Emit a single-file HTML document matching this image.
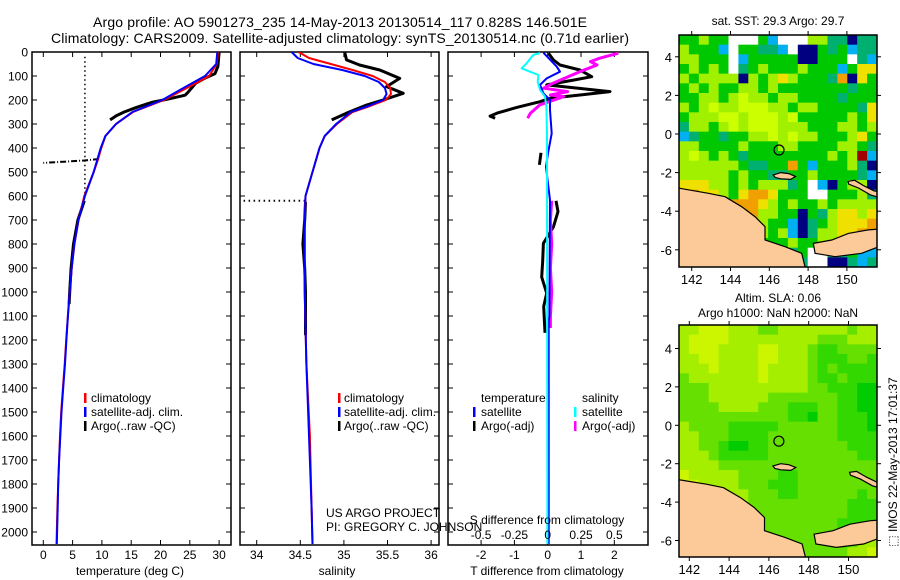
<!DOCTYPE html>
<html><head><meta charset="utf-8"><style>
html,body{margin:0;padding:0;background:#fff;}
svg{display:block;font-family:"Liberation Sans",sans-serif;}
</style></head><body>
<svg id="fig" width="900" height="580" viewBox="0 0 900 580" xmlns="http://www.w3.org/2000/svg">
<text x="340" y="27" font-size="14" text-anchor="middle" textLength="494">Argo profile: AO 5901273_235 14-May-2013 20130514_117 0.828S 146.501E</text>
<text x="340" y="43" font-size="14" text-anchor="middle" textLength="578">Climatology: CARS2009. Satellite-adjusted climatology: synTS_20130514.nc (0.71d earlier)</text>
<defs>
<clipPath id="c1"><rect x="32" y="52" width="199" height="493"/></clipPath>
<clipPath id="c2"><rect x="240" y="52" width="199" height="493"/></clipPath>
<clipPath id="c3"><rect x="448" y="52" width="200" height="493"/></clipPath>
<clipPath id="m1"><rect x="679" y="35" width="198" height="232"/></clipPath>
<clipPath id="m2"><rect x="679" y="325" width="198" height="232"/></clipPath>
</defs>
<g id="layer"></g>
</svg>
<script>
// ---------- data ----------
const depthTicks=[0,100,200,300,400,500,600,700,800,900,1000,1100,1200,1300,1400,1500,1600,1700,1800,1900,2000];
const tempTicks=[0,5,10,15,20,25,30];
const salTicks=[34,34.5,35,35.5,36];
const salTickLabels=["34","34.5","35","35.5","36"];
const dTTicks=[-2,-1,0,1,2];
const dSTicks=[-0.5,-0.25,0,0.25,0.5];
const dSTickLabels=["-0.5","-0.25","0","0.25","0.5"];

const tDepth=[0,50,100,150,200,250,300,350,400,450,500,600,700,800,900,1000,1100,1200,1300,1400,1500,1600,1700,1800,1900,2000,2050];
const tClim=[29.8,29.6,28.3,24.5,20.6,15.3,12.4,10.6,9.9,9.3,8.6,7.0,6.0,5.3,4.85,4.5,4.2,3.9,3.65,3.35,3.05,2.85,2.7,2.55,2.4,2.3,2.25];
const tSat=[29.7,29.5,27.6,23.9,20.3,15.2,12.4,10.6,9.8,9.2,8.6,7.1,6.0,5.3,4.85,4.5,4.2,3.95,3.7,3.4,3.1,2.9,2.7,2.55,2.45,2.35,2.3];
const argoTDepth=[3,30,60,90,110,130,150,170,180,195,210,230,250,265,283,NaN,620,700,800,900,1000,1050];
const argoT=[30.0,29.9,29.8,29.3,27.5,26.0,25.3,24.6,24.2,21.5,18.5,16.0,13.8,12.5,11.4,NaN,7.0,5.9,5.15,4.75,4.5,4.4];
const spikeDepth=[446,452,457,462];
const spikeT=[9.5,7.0,3.5,0.0];

const sDepth=[0,25,50,75,100,125,150,175,200,225,250,300,350,400,500,600,700,1000,1300,1600,1900,2050];
const sClim=[34.48,34.60,34.85,35.10,35.33,35.47,35.53,35.54,35.48,35.30,35.10,34.92,34.78,34.72,34.64,34.56,34.55,34.55,34.57,34.61,34.63,34.64];
const sSat=[34.40,34.47,34.65,34.98,35.24,35.40,35.47,35.49,35.45,35.28,35.08,34.91,34.78,34.72,34.64,34.56,34.55,34.55,34.57,34.60,34.63,34.64];
const argoSDepth=[3,33,54,75,110,144,172,200,221,255,283,NaN,625,700,800,900,1000,1100,1180];
const argoS=[35.01,35.03,35.18,35.41,35.64,35.49,35.68,35.45,35.26,35.03,34.86,NaN,34.56,34.55,34.53,34.55,34.56,34.56,34.56];

const satDTDepth=[3,61,82,110,137,172,200,242,339,422,478,617,1100,1120,2050];
const satDT=[-0.13,0.27,0.37,-0.03,-0.23,-0.13,0.07,0.07,0.12,0.01,-0.05,0.07,0.05,0.03,0.03];
const satDSDepth=[4,12,47,68,82,96,124,158,186,228,339,2050];
const satDS=[-0.058,-0.108,-0.158,-0.196,-0.133,-0.07,-0.075,-0.058,-0.02,-0.01,-0.005,-0.002];
const argoDSDepth=[5,26,40,54,82,130,151,165,179,186,221,255,276,NaN,620,700,800,900,1000,1100,1150];
const argoDS=[0.53,0.39,0.32,0.37,0.24,0.04,-0.03,0.15,0.02,0.12,-0.06,-0.13,-0.15,NaN,0.03,0.02,0.03,0.02,0.03,0.02,0.02];
const argoDTDepth=[5,33,54,75,103,117,137,165,179,193,207,231,255,267,276,NaN,420,470,NaN,620,665,729,797,870,938,1005,1060,1120,1170];
const argoDT=[0.02,0.17,0.37,0.97,1.32,0.77,-0.03,1.87,0.97,0.07,-0.23,-0.93,-1.53,-1.73,-1.58,NaN,-0.2,-0.25,NaN,0.25,0.31,0.17,-0.13,-0.15,-0.18,-0.03,-0.12,-0.1,-0.08];

const lonTicks=[142,144,146,148,150];
const latTicks=[4,2,0,-2,-4,-6];
const stationLon=146.501, stationLat=-0.828;
const sstGrid=[
"GGLGGWWWGBWWWLLTTNTT","LGGGBWGGTTBWNNGTGBTT","LLGGGWBGGGGGNNGGGWTB","GLGLGWTGLGGGLGGGBGyy",
"LGLLLLNLGLyLGGGTONyG","GLGLGGLLGLGGGGGGGTGG","GGLLGLYLLGLLGGGGTGGG","LGLYLLYYYLLGLLGGGGTy",
"GLLLYYLYYYLYGGGGGLGy","TLLGLYLYYYLLLGGGLLGL","BTGGTGGLLYLYLLGGGLyG","LLGGGGLGGGLLGGGGLLGT",
"LYLGLGTGGGGGGGGLGLRB","LLLLLLGTTGGOGBGGGLTN","LLLLLGLGGTTGGLGGGGTB","yyyLLGLGLLLTGWBNGLLN",
"OOyyLGyOOyGGGWWGGGLT","LLyOOOOOyLGLGGLGLLLL","LLLLOOOOLLGGNGTLyyLy","LLLLLLyLLGGBNTGLyyyO",
"LLLLLLLLLGLBNTLLyyOO","LLLLLLLLGGGLGGLLyGGN","GGGGGGGGGGTTGWWTTGBB","GGGGGGGGGNTTTWWNNTBT"];
const slaGrid=[
"bbaaabbbccbbbbbbbcbb","baaaabbbbbbbbbcccbbb","baaabbbbaabbbcddcccc","bbaabbbbaabbbcdddccd",
"bbbabbbbabbbbcdcdddd","cbbbbbbbabbbbcddcddd","cccbbbbbbbbbbccdddee","cccbbbbbbcccccccddee",
"ccccbbbbcccdddccddee","cccccccccccddeccddde","bccccdddddccccccddde","bbcccddddcccccccdddd",
"bbccdeeddccccccccddd","bbbcdddddcccccccccdd","bbbbcccccccccccccccc","abbbbbccccddcccccccc",
"aabbbbcccdddcccccccc","aaabbbbcccddccccccdc","aaaabbbccccccccccddd","aabbbbcccccccccccddd",
"bbbbbbbcccccccccdddd","bbbbbbbcccccccccddcc","bbbbbbccccccccccdcbb","cccccccccccccccccbba"];
const coastLon=[141.0,141.35,142.86,143.72,144.58,145.26,145.78,145.78,146.81,147.67,147.84,147.9,141.0];
const coastLat=[-2.8,-2.81,-3.07,-3.25,-3.77,-4.28,-4.80,-5.49,-5.84,-6.18,-6.88,-7.5,-7.5];
const nbLon=[148.27,149.22,150.07,151.1,152,152,150.76,149.39,148.36];
const nbLat=[-5.67,-5.49,-5.15,-4.97,-4.9,-5.7,-6.18,-6.36,-6.18];
const manusLon=[146.2,146.6,147.0,147.35,147.1,146.6,146.3];
const manusLat=[-2.12,-2.0,-2.05,-2.2,-2.35,-2.32,-2.25];
const niLon=[150.05,150.4,150.9,151.4,151.7,151.7,151.2,150.6,150.1];
const niLat=[-2.45,-2.4,-2.7,-2.95,-3.0,-3.3,-3.15,-2.8,-2.6];

// ---------- helpers ----------
const NS="http://www.w3.org/2000/svg";
const layer=document.getElementById('layer');
function mk(tag,attrs,parent){const e=document.createElementNS(NS,tag);for(const k in attrs)e.setAttribute(k,attrs[k]);(parent||layer).appendChild(e);return e;}
const yD=d=>52+d*0.24;
const xT=t=>43.3+t*5.86;
const xS=s=>256.7+(s-34)*87.2;
const xDT=v=>547.7+v*33.3;
const xDS=v=>547.7+v*133.3;
function pathD(xs,ys,fx,fy){let d="",pen=false;for(let i=0;i<xs.length;i++){if(isNaN(xs[i])||isNaN(ys[i])){pen=false;continue;}d+=(pen?"L":"M")+fx(xs[i]).toFixed(1)+","+fy(ys[i]).toFixed(1);pen=true;}return d;}
function line(g,vals,deps,fx,color,w,name,dash){const p=mk('path',{d:pathD(vals,deps,fx,yD),fill:'none',stroke:color,'stroke-width':w,'stroke-linejoin':'round'},g);if(dash)p.setAttribute('stroke-dasharray',dash);

return p;}
function txt(x,y,s,size,anchor,name,parent){const t=mk('text',{x:x,y:y,'font-size':size,'text-anchor':anchor||'start'},parent);t.textContent=s;

return t;}

// ---------- profile panels ----------
const panels=[{x:32,clip:'c1'},{x:240,clip:'c2'},{x:448,clip:'c3',w:200}];
panels.forEach((p,i)=>{
  const w=p.w||199;
  const r=mk('rect',{x:p.x,y:52,width:w,height:493,fill:'#fff',stroke:'#000','stroke-width':1.5});
  
  
  depthTicks.forEach(d=>{
    mk('line',{x1:p.x,x2:p.x+5,y1:yD(d),y2:yD(d),stroke:'#000'});
    mk('line',{x1:p.x+w-5,x2:p.x+w,y1:yD(d),y2:yD(d),stroke:'#000'});
  });
});
depthTicks.forEach(d=>txt(28,yD(d)+4.5,String(d),12,'end','depth-tick-label'));
tempTicks.forEach(t=>{mk('line',{x1:xT(t),x2:xT(t),y1:52,y2:57,stroke:'#000'});mk('line',{x1:xT(t),x2:xT(t),y1:540,y2:545,stroke:'#000'});txt(xT(t),559,String(t),12,'middle','temp-tick-label');});
salTicks.forEach((s,i)=>{mk('line',{x1:xS(s),x2:xS(s),y1:52,y2:57,stroke:'#000'});mk('line',{x1:xS(s),x2:xS(s),y1:540,y2:545,stroke:'#000'});txt(xS(s),559,salTickLabels[i],12,'middle','salinity-tick-label');});
dTTicks.forEach(t=>{mk('line',{x1:xDT(t),x2:xDT(t),y1:52,y2:57,stroke:'#000'});mk('line',{x1:xDT(t),x2:xDT(t),y1:540,y2:545,stroke:'#000'});txt(xDT(t),559,String(t),12,'middle','tdiff-tick-label');});
txt(130,575,'temperature (deg C)',12,'middle','x-axis-title-temperature');
txt(337,575,'salinity',12,'middle','x-axis-title-salinity');
txt(547,575,'T difference from climatology',12,'middle','x-axis-title-tdiff');

const g1=mk('g',{'clip-path':'url(#c1)'});
line(g1,[7.1,7.1],[20,600],xT,'#000',1.5,'argo-qc-dotted-line','1.5,3');
line(g1,spikeT,spikeDepth,xT,'#000',2,'argo-temp-spike','6,2,1,2');
line(g1,argoT,argoTDepth,xT,'#000',3,'argo-temp-line');
line(g1,tClim,tDepth,xT,'#f00',2,'clim-temp-line');
line(g1,tSat,tDepth,xT,'#00f',2,'sat-temp-line');

const g2=mk('g',{'clip-path':'url(#c2)'});
line(g2,[33.85,34.56],[620,620],xS,'#000',2,'argo-sal-dotted-line','1.5,3.5');
line(g2,argoS,argoSDepth,xS,'#000',3,'argo-sal-line');
line(g2,sClim,sDepth,xS,'#f00',2,'clim-sal-line');
line(g2,sSat,sDepth,xS,'#00f',2,'sat-sal-line');

const g3=mk('g',{'clip-path':'url(#c3)'});
line(g3,argoDT,argoDTDepth,xDT,'#000',3,'argo-tdiff-line');
line(g3,argoDS,argoDSDepth,xDS,'#f0f',3,'argo-sdiff-line');
line(g3,satDT,satDTDepth,xDT,'#00f',2,'sat-tdiff-line');
line(g3,satDS,satDSDepth,xDS,'#0ff',2,'sat-sdiff-line');

// legends
function leg(bx,tx,y,color,label,name){const b=mk('rect',{x:bx,y:y-5,width:2.5,height:10,fill:color});txt(tx,y+4,label,12,'start',name);}
[[84,91],[338,344]].forEach((p,i)=>{
  leg(p[0],p[1],398,'#f00','climatology','legend-climatology');
  leg(p[0],p[1],412,'#00f','satellite-adj. clim.','legend-satellite-adj');
  leg(p[0],p[1],426,'#000','Argo(..raw -QC)','legend-argo');
});
txt(481,402,'temperature',12,'start','legend-temperature-header');
leg(473,481,412,'#00f','satellite','legend-temp-satellite');
leg(473,481,426,'#000','Argo(-adj)','legend-temp-argo');
txt(582,402,'salinity',12,'start','legend-salinity-header');
leg(574,582,412,'#0ff','satellite','legend-sal-satellite');
leg(574,582,426,'#f0f','Argo(-adj)','legend-sal-argo');
txt(326,517,'US ARGO PROJECT',12,'start','credit-project');
txt(326,531,'PI: GREGORY C. JOHNSON',12,'start','credit-pi');
txt(547,524,'S difference from climatology',12,'middle','sdiff-axis-title');
dSTicks.forEach((s,i)=>txt(xDS(s),539,dSTickLabels[i],12,'middle','sdiff-tick-label'));

// ---------- maps ----------
const sstCol={G:'#00c800',L:'#a0f000',Y:'#ccff00',T:'#00b070',B:'#00b0f0',N:'#000080',W:'#ffffff',O:'#f0a000',y:'#f0e000',R:'#a00000'};
const slaCol={a:'#ccf500',b:'#a6ee00',c:'#66e000',d:'#33d800',e:'#00cc00'};
const maps=[
 {left:679,top:35,w:198,h:232,lon0:142,kx:19.4,off:12.7,lat0y:134,ky:19.3,clip:'m1',grid:sstGrid,cols:sstCol,name:'sst-map'},
 {left:679,top:325,w:198,h:232,lon0:142,kx:19.9,off:10.3,lat0y:425.3,ky:19.2,clip:'m2',grid:slaGrid,cols:slaCol,name:'sla-map'}];
function poly(m,lons,lats,g,name){const pts=lons.map((lo,i)=>(m.left+m.off+m.kx*(lo-m.lon0)).toFixed(1)+','+(m.lat0y-lats[i]*m.ky).toFixed(1)).join(' ');
 const p=mk('polygon',{points:pts,fill:'#fcca98',stroke:'#000','stroke-width':1.2},g);}
maps.forEach(m=>{
  const px=lo=>m.left+m.off+m.kx*(lo-m.lon0);
  const py=la=>m.lat0y-la*m.ky;
  const g=mk('g',{'clip-path':'url(#'+m.clip+')'});
  
  
  const rows=m.grid.length,cols=m.grid[0].length,cw=m.w/cols,ch=m.h/rows;
  m.grid.forEach((row,r)=>{for(let c=0;c<cols;c++){const cell=mk('rect',{x:(m.left+c*cw).toFixed(2),y:(m.top+r*ch).toFixed(2),width:(cw+0.5).toFixed(2),height:(ch+0.5).toFixed(2),fill:m.cols[row[c]]},g);
    
    }});
  poly(m,coastLon,coastLat,g,'land-new-guinea');
  poly(m,nbLon,nbLat,g,'land-new-britain');
  poly(m,manusLon,manusLat,g,'land-manus');
  poly(m,niLon,niLat,g,'land-new-ireland');
  const c=mk('circle',{cx:px(stationLon),cy:py(stationLat),r:5,fill:'none',stroke:'#000','stroke-width':1.2},g);
  
  
  const f=mk('rect',{x:m.left,y:m.top,width:m.w,height:m.h,fill:'none',stroke:'#000','stroke-width':1.5});
  
  
  lonTicks.forEach(lo=>{const x=px(lo);mk('line',{x1:x,x2:x,y1:m.top-4,y2:m.top,stroke:'#000'});mk('line',{x1:x,x2:x,y1:m.top+m.h,y2:m.top+m.h+4,stroke:'#000'});txt(x,m.top+m.h+17,String(lo),13,'middle','map-lon-tick-label');});
  latTicks.forEach(la=>{const y=py(la);mk('line',{x1:m.left-4,x2:m.left,y1:y,y2:y,stroke:'#000'});mk('line',{x1:m.left+m.w,x2:m.left+m.w+4,y1:y,y2:y,stroke:'#000'});txt(m.left-7,y+5,String(la),13,'end','map-lat-tick-label');});
});
txt(778,25,'sat. SST: 29.3  Argo: 29.7',12,'middle','sst-map-title');
txt(778,302,'Altim. SLA: 0.06',12,'middle','sla-map-title');
txt(778,317,'Argo h1000: NaN h2000: NaN',12,'middle','sla-map-subtitle');
const rt=txt(0,0,'\u2B1A IMOS 22-May-2013 17:01:37',12,'middle','imos-timestamp');
rt.setAttribute('transform','translate(897,462) rotate(-90)');
</script>
</body></html>
